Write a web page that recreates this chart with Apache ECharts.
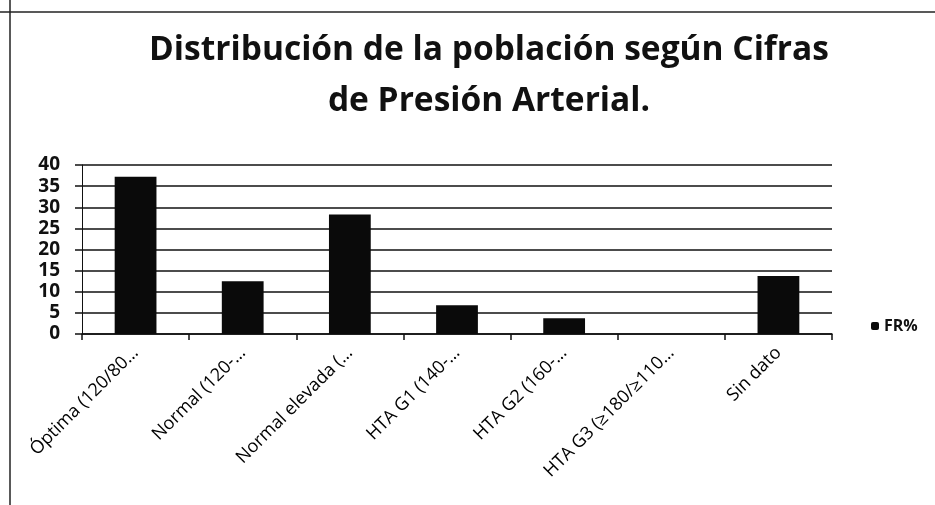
<!DOCTYPE html>
<html>
<head>
<meta charset="utf-8">
<script src="https://cdn.jsdelivr.net/npm/echarts@6/dist/echarts.min.js"></script>
<style>
  html, body { margin: 0; padding: 0; background: #fff; }
  #chart { width: 935px; height: 505px; }
</style>
</head>
<body>
<div id="chart"></div>
<script>
// categorías (etiquetas tal como se ven, recortadas)
const categorias = ['Óptima (120/80…', 'Normal (120-…', 'Normal elevada (…', 'HTA G1 (140-…', 'HTA G2 (160-…', 'HTA G3 (≥180/≥110…', 'Sin dato'];
// porcentaje de cada grupo
const frPct = [37.2, 12.5, 28.3, 6.8, 3.7, 0, 13.7];
const yTicks = [0, 5, 10, 15, 20, 25, 30, 35, 40];

const chart = echarts.init(document.getElementById('chart'));

const option = {
  backgroundColor: '#fff',
  animation: false,
  title: {
    text: 'Distribución de la población según Cifras\nde Presión Arterial.',
    left: 484,
    top: 20,
    textAlign: 'center',
    textStyle: {
      fontFamily: 'Open Sans',
      fontWeight: 'bold',
      fontSize: 33.5,
      lineHeight: 51,
      color: '#111'
    }
  },
  legend: {
    data: ['FR%'],
    left: 866,
    top: 313,
    itemWidth: 8,
    itemHeight: 8,
    itemGap: 5,
    textStyle: { fontFamily: 'Open Sans', fontSize: 16, fontWeight: 'bold', color: '#111' }
  },
  grid: { left: 82, right: 103, top: 165, bottom: 171 },
  xAxis: {
    type: 'category',
    data: categorias,
    axisLine: { lineStyle: { color: '#111', width: 1.5 } },
    axisTick: { show: true, length: 6, lineStyle: { color: '#111', width: 1.5 } },
    axisLabel: {
      rotate: 45,
      margin: 16,
      fontFamily: 'Open Sans',
      fontSize: 18,
      color: '#000'
    }
  },
  yAxis: {
    type: 'value',
    min: yTicks[0],
    max: yTicks[yTicks.length - 1],
    interval: 5,
    axisLine: { show: true, lineStyle: { color: '#111', width: 1 } },
    axisTick: { show: true, length: 7, lineStyle: { color: '#111', width: 1.5 } },
    axisLabel: { fontFamily: 'Open Sans', fontSize: 19, fontWeight: 'bold', color: '#111', margin: 22 },
    splitLine: { lineStyle: { color: '#111', width: 1.5 } }
  },
  series: [{
    name: 'FR%',
    type: 'bar',
    data: frPct,
    barWidth: '39%',
    itemStyle: { color: '#0a0a0a' }
  }],
  graphic: [
    // bordes del recorte escaneado
    { type: 'line', shape: { x1: 10, y1: 0, x2: 10, y2: 505 }, style: { stroke: '#222', lineWidth: 1.5 } },
    { type: 'line', shape: { x1: 0, y1: 12, x2: 935, y2: 12 }, style: { stroke: '#222', lineWidth: 1.5 } }
  ]
};

chart.setOption(option);
</script>
</body>
</html>
